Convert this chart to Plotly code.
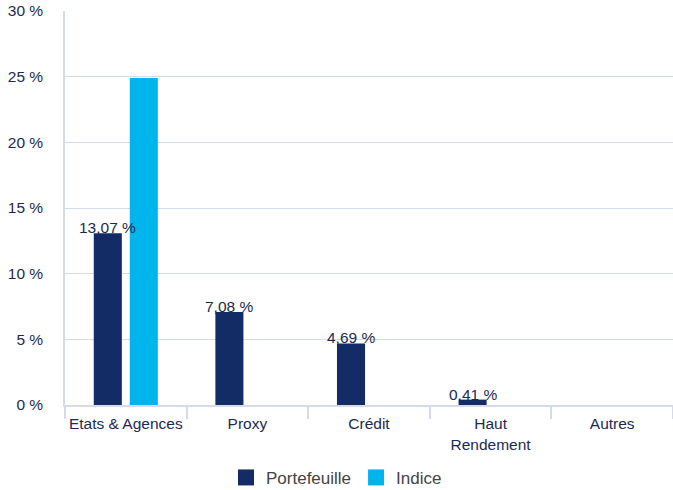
import plotly.graph_objects as go

categories = ["Etats & Agences", "Proxy", "Crédit", "Haut<br>Rendement", "Autres"]
portefeuille = [13.07, 7.08, 4.69, 0.41, None]
indice = [24.9, None, None, None, None]
series_names = ["Portefeuille", "Indice"]

navy = "#132c66"
cyan = "#00b5eb"
grid = "#d3dce8"
txt = "#1c2a52"
FONT = "Liberation Sans, Arial, sans-serif"

fig = go.Figure()
for name, vals, col in zip(series_names, [portefeuille, indice], [navy, cyan]):
    fig.add_trace(go.Bar(
        x=categories, y=vals, name=name,
        marker=dict(color=col, line=dict(width=0)),
        hoverinfo="skip", showlegend=False, legendgroup=name,
    ))
# legend entries with larger square swatches
for name, col in zip(series_names, [navy, cyan]):
    fig.add_trace(go.Scatter(
        x=[None], y=[None], mode="markers", name=name, legendgroup=name,
        marker=dict(symbol="square", size=16, color=col),
        hoverinfo="skip",
    ))

# value labels above Portefeuille bars
for c, v in zip(categories, portefeuille):
    if v is None:
        continue
    fig.add_annotation(
        x=c, y=v, xref="x", yref="y",
        text=("%.2f %%" % v).replace(".", ","),
        showarrow=False, yanchor="bottom", xanchor="center",
        xshift=-18, yshift=-5,
        font=dict(size=15.5, color=txt, family=FONT),
    )

fig.update_layout(
    width=673, height=490,
    margin=dict(l=65, r=0, t=11, b=85, autoexpand=False),
    paper_bgcolor="white", plot_bgcolor="white",
    separators=", ",
    barmode="group", bargap=0.408, bargroupgap=0.22,
    font=dict(family=FONT, size=15.5, color=txt),
    showlegend=True,
    legend=dict(orientation="h", xref="container", x=0.5, xanchor="center",
                y=-0.185, yanchor="middle", itemsizing="trace",
                font=dict(size=17, color="#444444"), itemwidth=30, traceorder="normal"),
)
fig.update_xaxes(
    showline=True, linecolor=grid, linewidth=1.5, tickangle=0, automargin=False,
    ticks="outside", tickson="boundaries", ticklen=12, tickcolor=grid, tickwidth=1.5,
    tickfont=dict(size=15.5, color=txt), showgrid=False, ticklabelstandoff=4,
)
fig.update_yaxes(
    range=[0, 30], dtick=5, ticksuffix=" %", automargin=False,
    showline=True, linecolor=grid, linewidth=1.5,
    showgrid=True, gridcolor=grid, gridwidth=1,
    zeroline=False,
    tickfont=dict(size=15.5, color=txt), ticklabelstandoff=17,
)

fig.write_html("out.html", config={"displayModeBar": False},
               post_script="document.body.style.margin='0';document.body.style.overflow='hidden';")
